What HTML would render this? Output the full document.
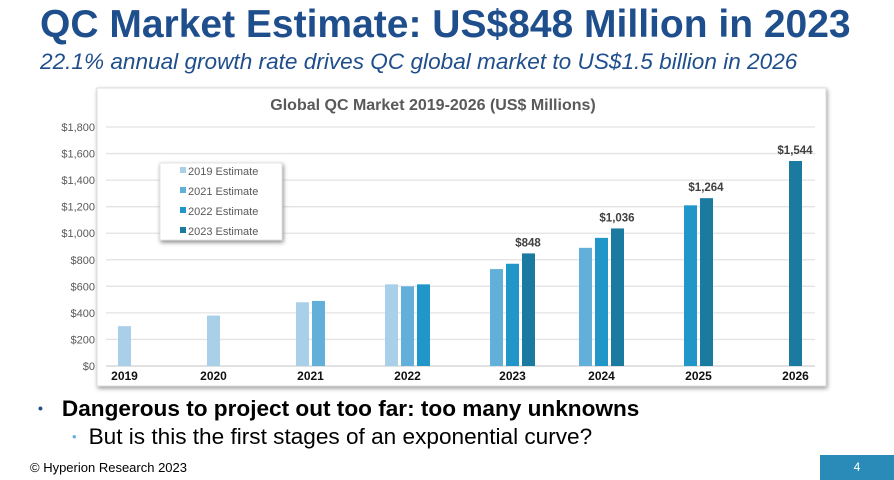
<!DOCTYPE html>
<html><head><meta charset="utf-8"><style>
body{margin:0;width:894px;height:480px;background:#fff;overflow:hidden;position:relative;font-family:"Liberation Sans",sans-serif}
.t{position:absolute;white-space:nowrap}
</style></head><body>
<div class="t" style="left:40px;top:3px;font-size:39px;font-weight:bold;color:#1f4e8c">QC Market Estimate: US$848 Million in 2023</div>
<div class="t" style="left:40px;top:49px;font-size:22.6px;font-style:italic;color:#1f4e8c">22.1% annual growth rate drives QC global market to US$1.5 billion in 2026</div>
<svg id="chart" width="894" height="480" style="position:absolute;left:0;top:0">
<rect x="97" y="88" width="729" height="298" fill="#fff" stroke="#ddd" style="filter:drop-shadow(1px 2px 2px #999)"/>
<text x="433" y="110" text-anchor="middle" font-size="16" font-weight="bold" fill="#595959" font-family="Liberation Sans">Global QC Market 2019-2026 (US$ Millions)</text>
<g id="grid"></g><g id="bars"></g><g id="labels"></g>
<g id="legend"></g>
</svg>
<div class="t" style="left:38px;top:396px;font-size:22.6px;font-weight:bold;color:#000"><span style="color:#1f4e8c;font-size:14px;margin-right:19px;vertical-align:3px">•</span>Dangerous to project out too far: too many unknowns</div>
<div class="t" style="left:72px;top:424px;font-size:22.6px;color:#000"><span style="color:#6ab0de;font-size:13px;margin-right:12px;vertical-align:3px">•</span>But is this the first stages of an exponential curve?</div>
<div class="t" style="left:30px;top:460px;font-size:13px;color:#000">© Hyperion Research 2023</div>
<div style="position:absolute;left:820px;top:455px;width:74px;height:25px;background:#2a8ab8;color:#fff;font-size:12px;text-align:center;line-height:25px">4</div>
<script>
const years=["2019","2020","2021","2022","2023","2024","2025","2026"];
const est2019=[300,380,480,615,null,null,null,null];
const est2021=[null,null,490,600,730,890,null,null];
const est2022=[null,null,null,615,770,965,1210,null];
const est2023=[null,null,null,null,848,1036,1264,1544];
const yTicks=[0,200,400,600,800,1000,1200,1400,1600,1800];
const tickLabels=["$0","$200","$400","$600","$800","$1,000","$1,200","$1,400","$1,600","$1,800"];
const valueLabels=[null,null,null,null,"$848","$1,036","$1,264","$1,544"];
const seriesNames=["2019 Estimate","2021 Estimate","2022 Estimate","2023 Estimate"];
const series=[est2019,est2021,est2022,est2023];
const colors=["#a9d0e8","#62b0da","#2196c8","#1a7aa0"];
const NS="http://www.w3.org/2000/svg";
const y=v=>366-v*(239/1800);
const x=(i,s)=>118+i*89+s*16;
function mk(tag,attrs,parent,text){const e=document.createElementNS(NS,tag);for(const k in attrs)e.setAttribute(k,attrs[k]);if(text!=null)e.textContent=text;parent.appendChild(e);return e;}
const grid=document.getElementById('grid'),bars=document.getElementById('bars'),labels=document.getElementById('labels'),legend=document.getElementById('legend');
yTicks.forEach((t,k)=>{
 const l=mk('line',{x1:106,x2:815,y1:y(t),y2:y(t),stroke:k==0?'#cfcfcf':'#e3e3e3','stroke-width':1.3},grid);
 
 
 const tx=mk('text',{x:95,y:y(t)+4,'text-anchor':'end','font-size':11,fill:'#595959','font-family':'Liberation Sans'},grid,tickLabels[k]);
 
 
});
series.forEach((arr,s)=>arr.forEach((v,i)=>{
 if(v==null)return;
 const r=mk('rect',{x:x(i,s),y:y(v),width:13,height:366-y(v),fill:colors[s]},bars);
 
 
}));
years.forEach((yr,i)=>{
 const used=series.map((a,s)=>a[i]!=null?s:null).filter(s=>s!=null);
 const cx=(x(i,used[0])+x(i,used[used.length-1])+13)/2;
 const t=mk('text',{x:cx,y:380,'text-anchor':'middle','font-size':12,'font-weight':'bold',fill:'#111','font-family':'Liberation Sans'},labels,yr);
 
 
 if(valueLabels[i]){
  const v=est2023[i];
  const d=mk('text',{x:x(i,3)+6,y:y(v)-7,'text-anchor':'middle','font-size':11.5,'font-weight':'bold',fill:'#404040','font-family':'Liberation Sans'},labels,valueLabels[i]);
  
  
 }
});
mk('rect',{x:160,y:163,width:122,height:77,fill:'#fff',stroke:'#e5e5e5',style:'filter:drop-shadow(1px 2px 2px #888)'},legend);
seriesNames.forEach((n,s)=>{
 const g=mk('g',{},legend);
 
 
 mk('rect',{x:180,y:167+s*20,width:6,height:6,fill:colors[s]},g);
 mk('text',{x:188,y:175+s*20,'font-size':11,fill:'#595959','font-family':'Liberation Sans'},g,n);
});
</script>
</body></html>
